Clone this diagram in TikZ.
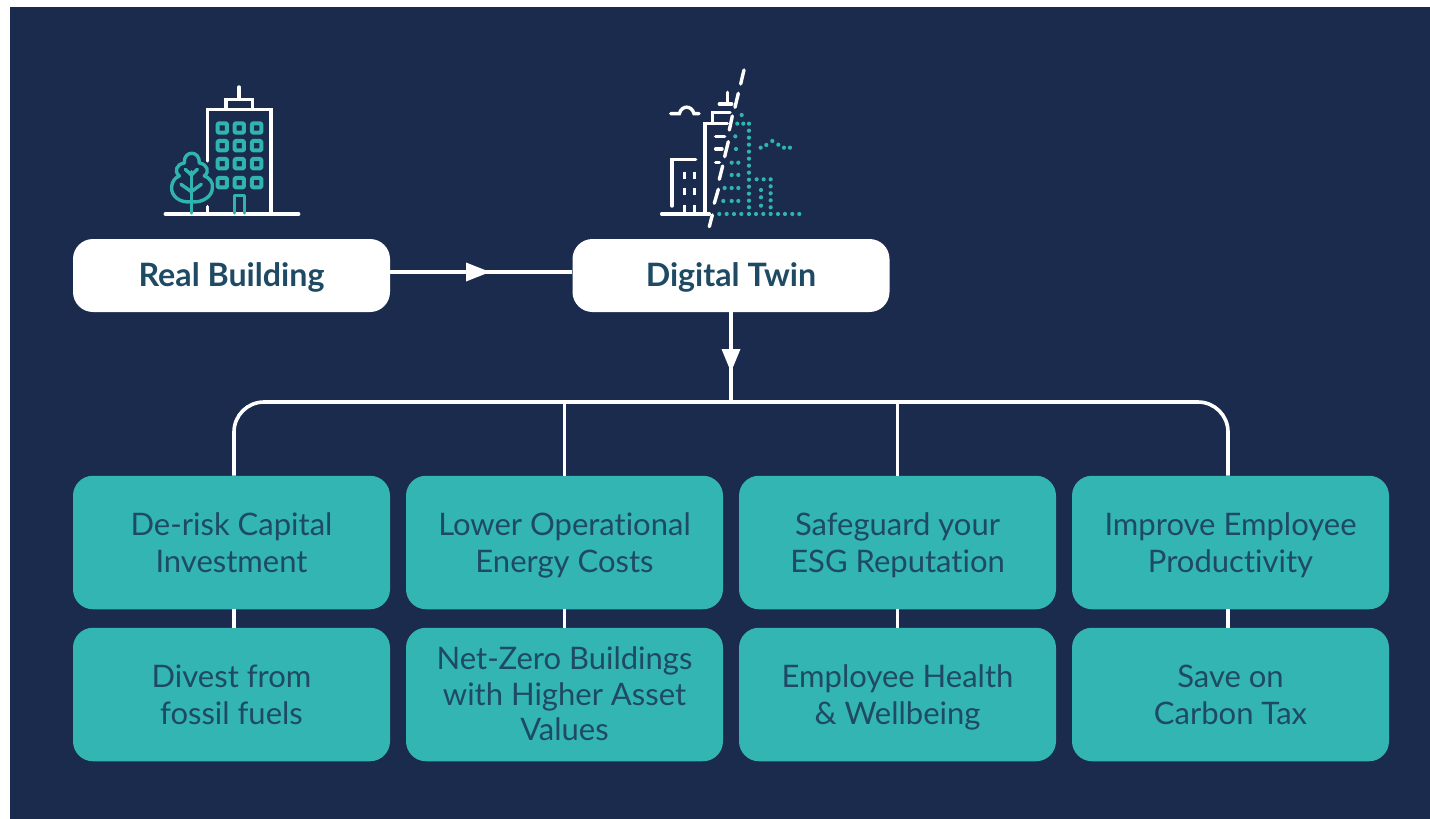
\documentclass[tikz,border=0pt]{standalone}
\usepackage{fontspec}
\setmainfont{Lato}[Ligatures=NoCommon]
\definecolor{navy}{HTML}{1B2B4D}
\definecolor{tealbox}{HTML}{33B5B4}
\definecolor{tealicon}{HTML}{2FB5AD}
\definecolor{inktext}{HTML}{1F4A63}
\newcommand{\lnA}{\rule[-7.3pt]{0pt}{37pt}}
\newcommand{\lnB}{\rule[-7pt]{0pt}{35.5pt}}
\tikzset{
  whitebox/.style={fill=white,rounded corners=20pt,minimum width=317pt,minimum height=73pt,inner sep=0pt,text=inktext,font=\fontsize{32.2}{37}\selectfont\bfseries,align=center},
  tealcard/.style={fill=tealbox,rounded corners=20pt,minimum width=317pt,minimum height=133.5pt,inner sep=0pt,text=inktext,font=\fontsize{31}{37}\selectfont,align=center},
  tightcard/.style={tealcard,font=\fontsize{31}{35.5}\selectfont},
  wire/.style={draw=white,line width=3.6pt},
  midtip/.style={fill=white,draw=none},
  iconw/.style={draw=white,line width=3.4pt,line cap=round,line join=miter},
  icont/.style={draw=tealicon,line width=3.4pt,line cap=round,line join=round},
  dot/.style={fill=tealicon,draw=none}
}
\begin{document}
\begin{tikzpicture}[x=1pt,y=-1pt]
\useasboundingbox (0,0) rectangle (1430,819);
\fill[white] (0,0) rectangle (1430,819);
\fill[navy] (10,7) rectangle (1430,819);
% nodes
\node[whitebox] (real) at (231.5,275.5) {\lnA Real Building};
\node[whitebox] (twin) at (731,275.5) {\lnA Digital Twin};
\node[tealcard] (a1) at (231.5,542.5) {\lnA De-risk Capital\\\lnA Investment};
\node[tealcard] (a2) at (564.5,542.5) {\lnA Lower Operational\\\lnA Energy Costs};
\node[tealcard] (a3) at (897.5,542.5) {\lnA Safeguard your\\\lnA ESG Reputation};
\node[tealcard] (a4) at (1230.5,542.5) {\lnA Improve Employee\\\lnA Productivity};
\node[tealcard] (b1) at (231.5,694.5) {\lnA Divest from\\\lnA fossil fuels};
\node[tightcard] (b2) at (564.5,694.5) {\lnB Net-Zero Buildings\\\lnB with Higher Asset\\\lnB Values};
\node[tealcard] (b3) at (897.5,694.5) {\lnA Employee Health\\\lnA \& Wellbeing};
\node[tealcard] (b4) at (1230.5,694.5) {\lnA Save on\\\lnA Carbon Tax};
% connectors
\coordinate (hub) at (731,402);
\coordinate (realout) at ([yshift=3.5pt]real.east);
\coordinate (twinin) at ([yshift=3.5pt]twin.west);
\draw[wire] (realout) -- (twinin);
\fill[midtip] (466,262.5) -- (490,272) -- (466,281.5) -- cycle;
\draw[wire] (twin.south) -- (hub);
\fill[midtip] (721.5,349) -- (731,372) -- (740.5,349) -- cycle;
\draw[wire,rounded corners=30pt] ([xshift=2.5pt]a1.north) |- (hub) -| ([xshift=-2.5pt]a4.north);
\draw[wire] (a2.north) -- (a2.north |- hub);
\draw[wire] (a3.north) -- (a3.north |- hub);
\draw[wire] ([xshift=2.5pt]a1.south) -- ([xshift=2.5pt]b1.north);
\draw[wire] (a2.south) -- (b2.north);
\draw[wire] (a3.south) -- (b3.north);
\draw[wire] ([xshift=-2.5pt]a4.south) -- ([xshift=-2.5pt]b4.north);
% real building icon
\begin{scope}[shift={(150,75)},x=0.3333pt,y=-0.3333pt]
 \draw[iconw] (173,258) -- (173,103) -- (363,103) -- (363,417);
 \draw[iconw] (173,395) -- (173,417);
 \draw[iconw] (228,103) -- (228,73) -- (307,73) -- (307,103);
 \draw[iconw] (267,36) -- (267,73);
 \draw[iconw] (46,417) -- (446,417);
 \foreach \wx in {217,268,320}\foreach \wy in {159,212,266,323}
   \draw[icont,line width=4pt,rounded corners=1pt] (\wx-14,\wy-14) rectangle (\wx+14,\wy+14);
 \draw[icont] (254,414) -- (254,362) -- (284,362) -- (284,414);
 \draw[icont] (124,414) -- (124,290);
 \draw[icont] (106,283) -- (124,300) -- (142,283);
 \draw[icont] (93,328) -- (124,350) -- (154,328);
 \draw[icont] (124,380) .. controls (92,385) and (62,365) .. (65,335)
   .. controls (66,320) and (75,308) .. (88,303)
   .. controls (72,290) and (78,268) .. (103,264)
   .. controls (100,225) and (150,225) .. (148,264)
   .. controls (172,268) and (180,290) .. (163,303)
   .. controls (178,308) and (190,322) .. (187,338)
   .. controls (188,365) and (155,385) .. (124,380);
\end{scope}
% digital twin icon
\begin{scope}[shift={(650,60)},x=0.3333pt,y=-0.3333pt]
 \foreach \xa/\ya/\xb/\yb in {282/30/272/72,265/100/255/142,247/168/238/210,235/245/224/290,218/318/208/358,205/388/193/430,187/465/178/500}
   \draw[iconw] (\xa,\ya) -- (\xb,\yb);
 \draw[iconw] (62,161) -- (88,161) .. controls (95,135) and (125,135) .. (132,161) -- (147,161);
 \draw[iconw] (233,97) -- (233,132);
 \draw[iconw] (208,132) -- (245,132);
 \draw[iconw] (240,158) -- (188,158) -- (188,190);
 \draw[iconw] (232,190) -- (165,190) -- (165,462);
 \draw[iconw] (197,229) -- (224,229);
 \draw[iconw] (197,267) -- (216,267);
 \draw[iconw] (197,307) -- (208,307);
 \draw[iconw] (137,299) -- (66,299) -- (66,438);
 \draw[iconw] (35,462) -- (178,462);
 \foreach \wx in {104,134}{
   \draw[iconw,line cap=butt] (\wx,335) -- (\wx,357);
   \draw[iconw,line cap=butt] (\wx,385) -- (\wx,405);
   \draw[iconw,line cap=butt] (\wx,435) -- (\wx,462);
 }
 \foreach \px/\py in {275/165,262/191,280/191,297/191,297/212,297/233,297/254,297/275,297/296,297/317,297/338,297/359,297/380,297/401,297/422,297/442,297/462,
   256/229,258/267,245/308,265/308,245/345,265/345,224/384,245/384,265/384,220/423,245/423,265/423,
   208/462,230/462,252/462,274/462,318/462,340/462,362/462,384/462,405/462,427/462,448/462,
   320/358,341/358,362/358,362/379,362/400,362/421,362/442,333/390,333/412,333/437,
   332/263,349/255,367/243,385/254,402/263,420/263}
   \fill[dot] (\px,\py) circle[radius=2.1pt];
\end{scope}
\end{tikzpicture}
\end{document}
